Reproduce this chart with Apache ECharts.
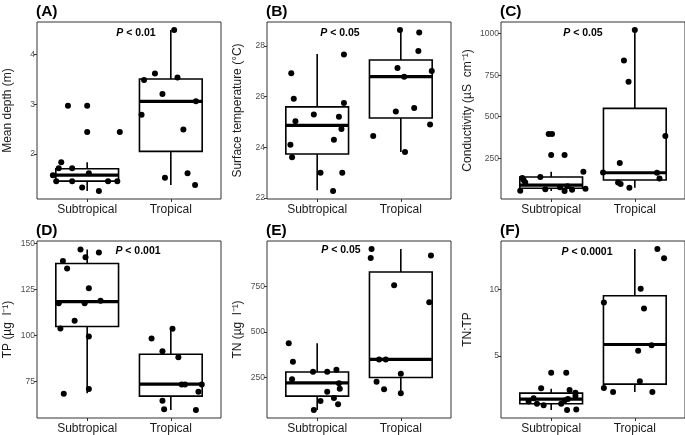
<!DOCTYPE html>
<html>
<head>
<meta charset="utf-8">
<script src="https://cdn.jsdelivr.net/npm/echarts@6/dist/echarts.min.js"></script>
<style>
html,body{margin:0;padding:0;background:#fff;}
#chart{width:685px;height:435px;}
</style>
</head>
<body>
<div id="chart"></div>
<script>
// ---------- data ----------
const categories = ['Subtropical', 'Tropical'];
const panelTitles = ['(A)', '(B)', '(C)', '(D)', '(E)', '(F)'];
const yNames = ['Mean depth (m)', 'Surface temperature (\u00B0C)', 'Conductivity (\u00B5S  cm\u207B\u00B9)',
                'TP (\u00B5g  l\u207B\u00B9)', 'TN (\u00B5g  l\u207B\u00B9)', 'TN:TP'];
const pValues = ['< 0.01', '< 0.05', '< 0.05', '< 0.001', '< 0.05', '< 0.0001'];
const yTicks = [[2, 3, 4], [22, 24, 26, 28], [250, 500, 750, 1000], [75, 100, 125, 150], [250, 500, 750], [5, 10]];
const yMin = [1.09, 21.96, 5, 55.3, 28, 0.35];
const yMax = [4.66, 28.95, 1070, 151.4, 998, 13.64];

// points: [category position with jitter, value]
const depthSub = [[0.77,2.97],[1.0,2.97],[1.0,2.44],[1.39,2.44],[0.69,1.83],[0.66,1.71],[0.82,1.71],[0.59,1.57],[1.02,1.61],[0.63,1.45],[0.82,1.45],[1.25,1.45],[1.36,1.45],[0.94,1.32],[1.14,1.25]];
const depthTrop = [[2.04,4.5],[1.81,3.62],[1.68,3.49],[2.08,3.54],[1.90,3.21],[2.30,3.06],[1.65,2.79],[2.15,2.49],[1.93,1.52],[2.20,1.61],[2.29,1.37]];
const tempSub = [[0.69,26.93],[0.72,25.92],[0.74,25.03],[0.68,24.1],[0.70,23.61],[1.04,23.0],[1.19,22.28],[0.96,25.3],[1.32,27.67],[1.32,25.75],[1.26,25.21],[1.29,24.72],[1.20,24.3],[1.30,23.0]];
const tempTrop = [[1.99,28.63],[2.22,28.54],[2.21,27.8],[1.96,27.13],[2.37,27.01],[2.04,26.79],[1.94,25.42],[2.16,25.55],[1.67,24.45],[2.35,24.9],[2.05,23.82]];
const condSub = [[0.97,396],[1.01,396],[1.0,270],[1.16,270],[1.385,169],[0.87,137],[0.655,131],[0.67,119],[0.69,105],[1.105,75],[1.195,81],[1.41,67],[0.63,55],[0.93,63],[1.16,53],[1.25,61]];
const condTrop = [[2.0,1022],[1.87,839],[1.925,711],[2.365,384],[1.82,221],[1.62,165],[2.265,163],[2.295,129],[1.80,105],[1.83,95],[1.935,73]];
const tpSub = [[0.92,146.8],[0.71,140.5],[0.98,142.6],[1.14,145.1],[0.76,136.5],[1.02,125.7],[0.66,117.6],[0.97,117.6],[1.16,118.9],[0.85,108.1],[0.68,103.9],[1.02,99.6],[0.72,68.5],[1.02,71.0]];
const tpTrop = [[2.02,103.8],[1.77,98.4],[1.90,91.5],[2.09,88.3],[2.13,73.5],[2.17,73.5],[2.37,73.5],[2.33,69.5],[1.90,64.7],[1.92,60.0],[2.30,59.7]];
const tnSub = [[0.66,438],[0.71,336],[0.70,240],[0.95,281],[1.12,281],[1.23,292],[1.26,219],[1.27,188],[1.12,172],[1.20,137],[1.04,121],[1.25,103],[0.96,72]];
const tnTrop = [[1.65,954],[1.64,905],[2.36,918],[1.92,755],[2.34,662],[1.74,349],[1.82,349],[2.0,270],[1.71,226],[1.80,186],[2.0,163]];
const ratioSub = [[1.0,3.75],[1.18,3.75],[0.88,2.59],[1.22,2.46],[1.29,2.24],[1.29,2.01],[0.79,1.84],[0.73,1.59],[0.83,1.42],[0.91,1.30],[1.12,1.42],[1.16,1.67],[1.20,1.77],[1.19,0.95],[1.30,0.99]];
const ratioTrop = [[2.27,13.04],[2.35,12.34],[2.07,10.05],[1.63,9.03],[2.11,8.58],[2.20,5.82],[2.04,5.40],[2.06,3.11],[1.63,2.61],[1.74,2.31],[2.21,2.31]];

// boxes: [min, q1, median, q3, max] for Subtropical, Tropical
const depthBox = [[1.25,1.45,1.57,1.70,1.83],[1.37,2.05,3.06,3.51,4.5]];
const tempBox = [[22.31,23.74,24.87,25.6,27.69],[23.82,25.16,26.79,27.45,28.63]];
const condBox = [[53,70,88,137,169],[73,119,163,550,1022]];
const tpBox = [[68.7,105,118.5,139.2,146.8],[59.7,67.2,73.7,89.9,103.8]];
const tnBox = [[72,148,221,280,438],[163,250,349,828,954]];
const ratioBox = [[0.95,1.42,1.77,2.22,2.54],[2.31,2.89,5.87,9.53,13.04]];

const pointSets = [[depthSub, depthTrop],[tempSub, tempTrop],[condSub, condTrop],[tpSub, tpTrop],[tnSub, tnTrop],[ratioSub, ratioTrop]];
const boxSets = [depthBox, tempBox, condBox, tpBox, tnBox, ratioBox];

// ---------- layout ----------
const FONT = 'Liberation Sans, Arial, Helvetica, sans-serif';
const colLeft = [37, 267, 501];
const rowTop = [22, 241];
const gw = 184, gh = 177;
const nameGaps = [23, 23, 27, 23, 23, 27];
const pPos = [[136,33],[340,33],[583,33],[138,251],[341,250],[587,252]];

const grids = [], xAxes = [], yAxes = [], series = [], graphics = [];
for (let i = 0; i < 6; i++) {
  const c = i % 3, r = Math.floor(i / 3);
  grids.push({left: colLeft[c], top: rowTop[r], width: gw, height: gh, show: true,
    borderColor: '#333', borderWidth: 1, backgroundColor: '#fff', containLabel: false});
  xAxes.push({type: 'value', gridIndex: i, min: 0.4, max: 2.6,
    axisLine: {show: false}, splitLine: {show: false},
    axisTick: {show: true, customValues: [1, 2], length: 3, lineStyle: {color: '#333', width: 1}},
    axisLabel: {show: true, customValues: [1, 2], margin: 5, fontSize: 12, color: '#1a1a1a', fontFamily: FONT,
      formatter: v => categories[Math.round(v) - 1]}});
  yAxes.push({type: 'value', gridIndex: i, min: yMin[i], max: yMax[i],
    axisLine: {show: false}, splitLine: {show: false},
    axisTick: {show: true, customValues: yTicks[i], length: 3, lineStyle: {color: '#333', width: 1}},
    axisLabel: {show: true, customValues: yTicks[i], margin: 2, fontSize: 8.5, color: '#4d4d4d', fontFamily: FONT,
      formatter: v => String(v)},
    name: yNames[i], nameLocation: 'middle', nameRotate: 90, nameGap: nameGaps[i],
    nameTextStyle: {fontSize: 12, color: '#1a1a1a', fontFamily: FONT}});
  series.push({type: 'custom', xAxisIndex: i, yAxisIndex: i, z: 2,
    data: boxSets[i].map((b, k) => [k + 1].concat(b)),
    encode: {x: 0, y: [1, 2, 3, 4, 5]},
    renderItem: function (params, api) {
      const x = api.value(0), lo = api.value(1), q1 = api.value(2), med = api.value(3), q3 = api.value(4), hi = api.value(5);
      const hw = 0.375;
      const tl = api.coord([x - hw, q3]), br = api.coord([x + hw, q1]);
      const ml = api.coord([x - hw, med]), mr = api.coord([x + hw, med]);
      const pHi = api.coord([x, hi]), pQ3 = api.coord([x, q3]), pQ1 = api.coord([x, q1]), pLo = api.coord([x, lo]);
      const st = {stroke: '#000', lineWidth: 1.6, fill: null};
      return {type: 'group', children: [
        {type: 'line', shape: {x1: pHi[0], y1: pHi[1], x2: pQ3[0], y2: pQ3[1]}, style: st},
        {type: 'line', shape: {x1: pQ1[0], y1: pQ1[1], x2: pLo[0], y2: pLo[1]}, style: st},
        {type: 'rect', shape: {x: tl[0], y: tl[1], width: br[0] - tl[0], height: br[1] - tl[1]},
          style: {stroke: '#000', lineWidth: 1.6, fill: '#fff'}},
        {type: 'line', shape: {x1: ml[0], y1: ml[1], x2: mr[0], y2: mr[1]}, style: {stroke: '#000', lineWidth: 3.2}}
      ]};
    }});
  pointSets[i].forEach(pts => {
    series.push({type: 'scatter', xAxisIndex: i, yAxisIndex: i, z: 3, data: pts,
      symbol: 'circle', symbolSize: 6, itemStyle: {color: '#000', opacity: 1}, silent: true, animation: false});
  });
  graphics.push({type: 'text', x: colLeft[c] - 1, y: rowTop[r] - 10,
    style: {text: panelTitles[i], font: 'bold 15.5px ' + FONT, fill: '#000',
      textAlign: 'left', textVerticalAlign: 'middle', align: 'left', verticalAlign: 'middle'}});
  graphics.push({type: 'text', x: pPos[i][0], y: pPos[i][1],
    style: {text: '{i|P}{b| ' + pValues[i] + '}', fill: '#000',
      textAlign: 'center', textVerticalAlign: 'middle', align: 'center', verticalAlign: 'middle',
      rich: {i: {fontStyle: 'italic', fontWeight: 'bold', fontSize: 10.5, fontFamily: FONT, fill: '#000', color: '#000'},
             b: {fontWeight: 'bold', fontSize: 10.5, fontFamily: FONT, fill: '#000', color: '#000'}}}});
}

const chart = echarts.init(document.getElementById('chart'), null, {renderer: 'canvas'});
chart.setOption({
  animation: false,
  backgroundColor: '#fff',
  textStyle: {fontFamily: FONT},
  grid: grids, xAxis: xAxes, yAxis: yAxes, series: series, graphic: graphics
});
</script>
</body>
</html>
